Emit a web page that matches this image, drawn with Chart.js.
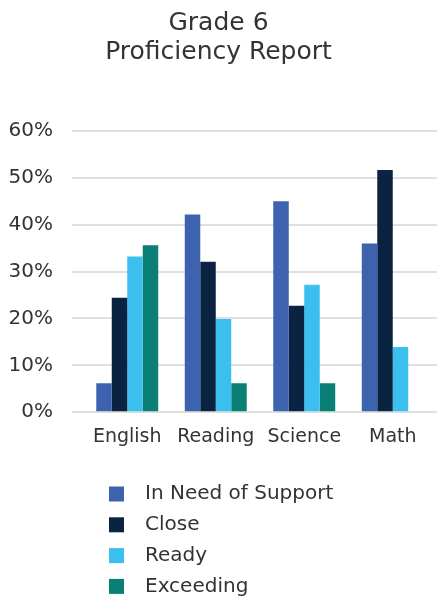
<!DOCTYPE html>
<html>
<head>
<meta charset="utf-8">
<script src="https://cdn.jsdelivr.net/npm/chart.js@4/dist/chart.umd.min.js"></script>
<style>
  html, body { margin: 0; padding: 0; background: #fff; }
  #wrap { width: 437px; height: 597px; position: relative; }
</style>
</head>
<body>
<div id="wrap"><canvas id="proficiency-chart"></canvas></div>
<script>
const subjects = ["English", "Reading", "Science", "Math"];
const needSupport = [6.2, 42.2, 45.0, 36.0];
const close = [24.4, 32.1, 22.7, 51.7];
const ready = [33.2, 19.9, 27.2, 13.9];
const exceeding = [35.6, 6.2, 6.2, 0];
const seriesNames = ["In Need of Support", "Close", "Ready", "Exceeding"];
const seriesColors = ["#3d63ae", "#0a2341", "#3bbfef", "#0a7f76"];

const FONT = "'DejaVu Sans', sans-serif";
const TEXT_COLOR = "#333333";

// bottom legend drawn one item per row, like the original
const stackedLegend = {
  id: "stackedLegend",
  afterDraw(chart) {
    const ctx = chart.ctx;
    ctx.save();
    ctx.font = "20px " + FONT;
    ctx.textBaseline = "middle";
    ctx.textAlign = "left";
    chart.data.datasets.forEach((ds, i) => {
      const y = 494 + i * 30.8;
      ctx.fillStyle = ds.backgroundColor;
      ctx.fillRect(109, y - 7.5, 15, 15);
      ctx.fillStyle = TEXT_COLOR;
      ctx.fillText(ds.label, 145, y);
    });
    ctx.restore();
  },
};

const chartCanvas = document.getElementById("proficiency-chart");
const values = [needSupport, close, ready, exceeding];

new Chart(chartCanvas, {
  type: "bar",
  data: {
    labels: subjects,
    datasets: values.map((data, i) => ({
      label: seriesNames[i],
      data,
      backgroundColor: seriesColors[i],
      borderWidth: 0,
      categoryPercentage: 0.7,
      barPercentage: 1.0,
    })),
  },
  options: {
    responsive: true,
    maintainAspectRatio: false,
    animation: false,
    layout: { padding: { left: 0, right: 0, top: 0, bottom: 136 } },
    plugins: {
      legend: { display: false },
      tooltip: { enabled: false },
      title: {
        display: true,
        text: ["Grade 6", "Proficiency Report"],
        color: TEXT_COLOR,
        font: { family: FONT, size: 25, weight: "normal", lineHeight: 1.16 },
        padding: { top: 9, bottom: 64 },
      },
    },
    scales: {
      x: {
        grid: { display: false, drawTicks: false },
        border: { display: false },
        ticks: {
          color: TEXT_COLOR,
          font: { family: FONT, size: 19 },
          padding: 13,
          autoSkip: false,
          maxRotation: 0,
          minRotation: 0,
        },
      },
      y: {
        min: 0,
        max: 60,
        border: { display: false },
        grid: { color: "#e0e0e0", lineWidth: 2, tickLength: 11, drawTicks: true },
        afterFit: (scale) => {
          scale.width = 83;
        },
        ticks: {
          stepSize: 10,
          color: TEXT_COLOR,
          font: { family: FONT, size: 20 },
          padding: 19,
          callback: (v) => v + "%",
        },
      },
    },
  },
  plugins: [stackedLegend],
});
</script>
</body>
</html>
